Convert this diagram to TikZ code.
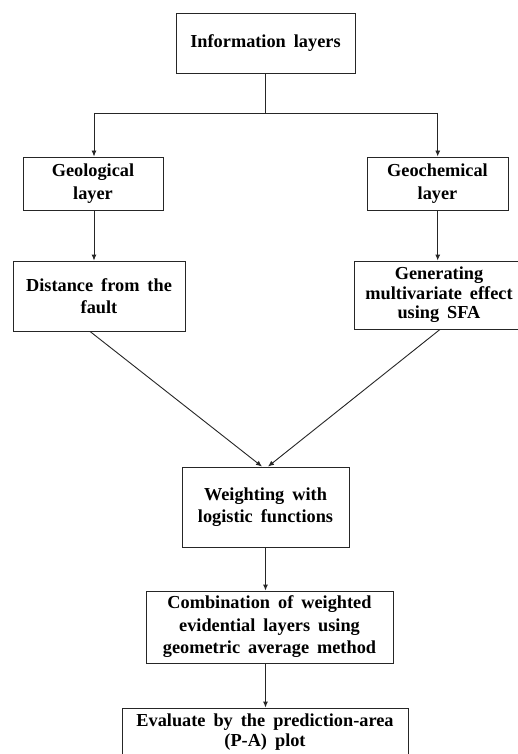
\documentclass[tikz,border=0pt]{standalone}
\usepackage{fontspec}
\setmainfont{Liberation Serif}
\usetikzlibrary{arrows.meta,calc}
\newcommand\widewords{\spaceskip=8pt plus 2pt minus 1pt\relax}
\begin{document}
\begin{tikzpicture}[x=1pt,y=-1pt,
  box/.style={draw=black!85, line width=0.9pt, fill=white, inner sep=0pt, align=center,
    font=\fontsize{18.3}{22.5}\selectfont\bfseries\widewords},
  tight/.style={font=\fontsize{18.3}{19.5}\selectfont\bfseries\widewords},
  link/.style={draw=black!85, line width=0.9pt},
  arr/.style={link, -{Latex[length=6pt,width=5pt]}}]
\useasboundingbox (0,0) rectangle (518,754);
\clip (0,0) rectangle (518,754);
\fill[white] (0,0) rectangle (518,754);
\node[box, minimum width=179pt, minimum height=60pt] (info) at (265.5,43) {Information layers};
\node[box, minimum width=140pt, minimum height=53pt] (geol) at (93,183.5) {Geological\\layer};
\node[box, minimum width=141pt, minimum height=53pt] (geoc) at (437.5,183.5) {Geochemical\\layer};
\node[box, minimum width=172pt, minimum height=70pt] (dist) at (99,296) {Distance from the\\fault};
\node[box, tight, minimum width=170pt, minimum height=68pt] (gen) at (439,295) {Generating\\multivariate effect\\using SFA};
\node[box, minimum width=167pt, minimum height=80pt] (wei) at (265.5,507) {Weighting with\\logistic functions};
\node[box, minimum width=247pt, minimum height=72pt] (comb) at (269.5,627) {Combination of weighted\\evidential layers using\\geometric average method};
\node[box, tight, minimum width=286pt, minimum height=48pt] (eval) at (265,732) {Evaluate by the prediction-area\\(P-A) plot};
\coordinate (junc) at (265.5,113);
\coordinate (jl) at (94,113);
\coordinate (jr) at (437.7,113);
\draw[link] (info.south) -- (junc);
\draw[link] (jl) -- (jr);
\draw[arr] (jl) -- (jl |- geol.north);
\draw[arr] (jr) -- (jr |- geoc.north);
\draw[arr] (geol.south -| jl) -- (jl |- dist.north);
\draw[arr] (geoc.south -| jr) -- (jr |- gen.north);
\draw[arr] ($(dist.south)+(-9,0)$) -- ($(wei.north)+(-3.5,0)$);
\draw[arr] ($(gen.south)+(1,0)$) -- ($(wei.north)+(2.5,0)$);
\draw[arr] (wei.south) -- (wei.south |- comb.north);
\draw[arr] (wei.south |- comb.south) -- (wei.south |- eval.north);
\end{tikzpicture}
\end{document}
